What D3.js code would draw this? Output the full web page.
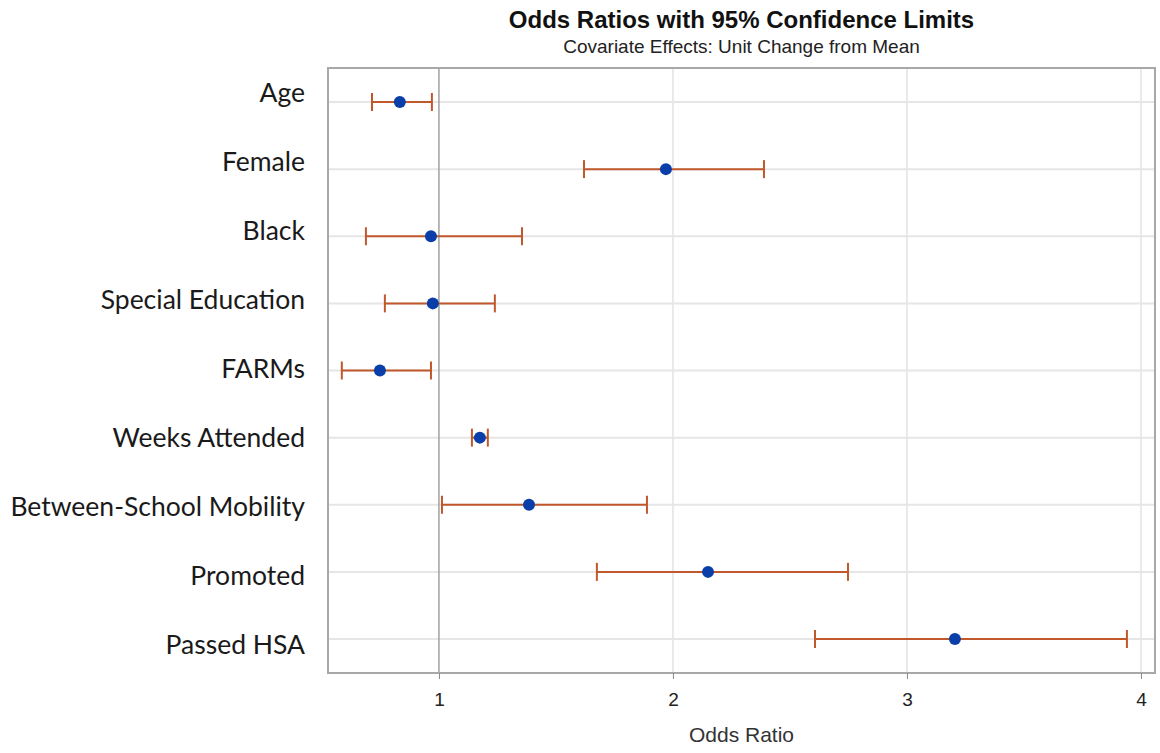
<!DOCTYPE html>
<html>
<head>
<meta charset="utf-8">
<script src="https://cdn.jsdelivr.net/npm/d3@7"></script>
<style>
  body { margin: 0; background: #fff; }
</style>
</head>
<body>
<div id="wrapper"></div>
<script>
// the data
const labels = ["Age", "Female", "Black", "Special Education", "FARMs",
  "Weeks Attended", "Between-School Mobility", "Promoted", "Passed HSA"]
const estimates = [0.833, 1.970, 0.966, 0.974, 0.748, 1.175, 1.385, 2.150, 3.205]
const lowerLimits = [0.714, 1.620, 0.688, 0.769, 0.585, 1.141, 1.013, 1.675, 2.607]
const upperLimits = [0.970, 2.389, 1.355, 1.239, 0.966, 1.209, 1.889, 2.748, 3.940]
const xTicks = [1, 2, 3, 4]

function drawChart() {
  const data = labels.map((label, i) => ({
    label, est: estimates[i], lo: lowerLimits[i], hi: upperLimits[i]
  }))

  let dims = {
    width: 1160,
    height: 753,
    margin: { top: 68, right: 5, bottom: 80, left: 328 },
  }
  dims.boundedWidth = dims.width - dims.margin.left - dims.margin.right
  dims.boundedHeight = dims.height - dims.margin.top - dims.margin.bottom

  const svg = d3.select("#wrapper")
    .append("svg")
      .attr("width", dims.width)
      .attr("height", dims.height)

  const bounds = svg.append("g")
      .attr("transform", `translate(${dims.margin.left},${dims.margin.top})`)

  // scales
  const xScale = d3.scaleLinear()
    .domain([0.526, 4.06])
    .range([0, dims.boundedWidth])

  const yScale = d3.scalePoint()
    .domain(labels)
    .range([34, dims.boundedHeight - 34])

  // the row labels sit on a slightly wider spacing than the rows
  const labelScale = d3.scalePoint()
    .domain(labels)
    .range([34, 586])

  // vertical grid lines
  bounds.append("g")
    .selectAll("line")
    .data(xTicks.filter(d => d !== 1))
    .join("line")
      .attr("x1", d => xScale(d))
      .attr("x2", d => xScale(d))
      .attr("y1", 0)
      .attr("y2", dims.boundedHeight)
      .attr("stroke", "#e3e3e3")
      .attr("stroke-width", 1.5)

  // horizontal grid lines
  bounds.append("g")
    .selectAll("line")
    .data(labels)
    .join("line")
      .attr("x1", 0)
      .attr("x2", dims.boundedWidth)
      .attr("y1", d => yScale(d))
      .attr("y2", d => yScale(d))
      .attr("stroke", "#e6e6e6")
      .attr("stroke-width", 2)

  // reference line at 1
  bounds.append("line")
    .attr("x1", xScale(1))
    .attr("x2", xScale(1))
    .attr("y1", 0)
    .attr("y2", dims.boundedHeight)
    .attr("stroke", "#a0a0a0")
    .attr("stroke-width", 1.5)

  // confidence limits
  const ci = bounds.append("g")
    .selectAll("g")
    .data(data)
    .join("g")
      .attr("stroke", "#c0582c")
      .attr("stroke-width", 2)

  ci.append("line")
    .attr("x1", d => xScale(d.lo))
    .attr("x2", d => xScale(d.hi))
    .attr("y1", d => yScale(d.label))
    .attr("y2", d => yScale(d.label))

  ci.append("line")
    .attr("x1", d => xScale(d.lo))
    .attr("x2", d => xScale(d.lo))
    .attr("y1", d => yScale(d.label) - 9)
    .attr("y2", d => yScale(d.label) + 9)

  ci.append("line")
    .attr("x1", d => xScale(d.hi))
    .attr("x2", d => xScale(d.hi))
    .attr("y1", d => yScale(d.label) - 9)
    .attr("y2", d => yScale(d.label) + 9)

  // point estimates
  bounds.append("g")
    .selectAll("circle")
    .data(data)
    .join("circle")
      .attr("cx", d => xScale(d.est))
      .attr("cy", d => yScale(d.label))
      .attr("r", 6)
      .attr("fill", "#0a3ea8")

  // frame
  bounds.append("rect")
    .attr("width", dims.boundedWidth)
    .attr("height", dims.boundedHeight)
    .attr("fill", "none")
    .attr("stroke", "#a8a8a8")
    .attr("stroke-width", 2)

  // x axis
  const xAxis = bounds.append("g")
      .attr("transform", `translate(0,${dims.boundedHeight})`)
      .call(d3.axisBottom(xScale).tickValues(xTicks).tickFormat(d3.format("d"))
        .tickSize(6).tickSizeOuter(0))
  xAxis.select(".domain").remove()
  xAxis.selectAll(".tick line").attr("stroke", "#888")
  xAxis.selectAll("text")
      .attr("dy", null)
      .attr("y", 33)
      .attr("font-family", "'Liberation Sans', Arial, sans-serif")
      .attr("font-size", 19)
      .attr("fill", "#222")

  bounds.append("text")
    .attr("x", dims.boundedWidth / 2)
    .attr("y", 742 - dims.margin.top)
    .attr("text-anchor", "middle")
    .attr("font-family", "'Liberation Sans', Arial, sans-serif")
    .attr("font-size", 21)
    .attr("fill", "#333")
    .text("Odds Ratio")

  // y labels
  bounds.append("g")
    .selectAll("text")
    .data(labels)
    .join("text")
      .attr("x", -23)
      .attr("y", d => labelScale(d))
      .attr("text-anchor", "end")
      .attr("font-family", "Lato, 'Open Sans', sans-serif")
      .attr("font-size", 26.5)
      .attr("fill", "#1a1a1a")
      .text(d => d)

  // titles
  svg.append("text")
    .attr("x", dims.margin.left + dims.boundedWidth / 2)
    .attr("y", 28)
    .attr("text-anchor", "middle")
    .attr("font-family", "'Liberation Sans', Arial, sans-serif")
    .attr("font-weight", "bold")
    .attr("font-size", 24)
    .attr("fill", "#111")
    .text("Odds Ratios with 95% Confidence Limits")

  svg.append("text")
    .attr("x", dims.margin.left + dims.boundedWidth / 2)
    .attr("y", 53)
    .attr("text-anchor", "middle")
    .attr("font-family", "'Liberation Sans', Arial, sans-serif")
    .attr("font-size", 19)
    .attr("fill", "#222")
    .text("Covariate Effects: Unit Change from Mean")
}

drawChart()
</script>
</body>
</html>
